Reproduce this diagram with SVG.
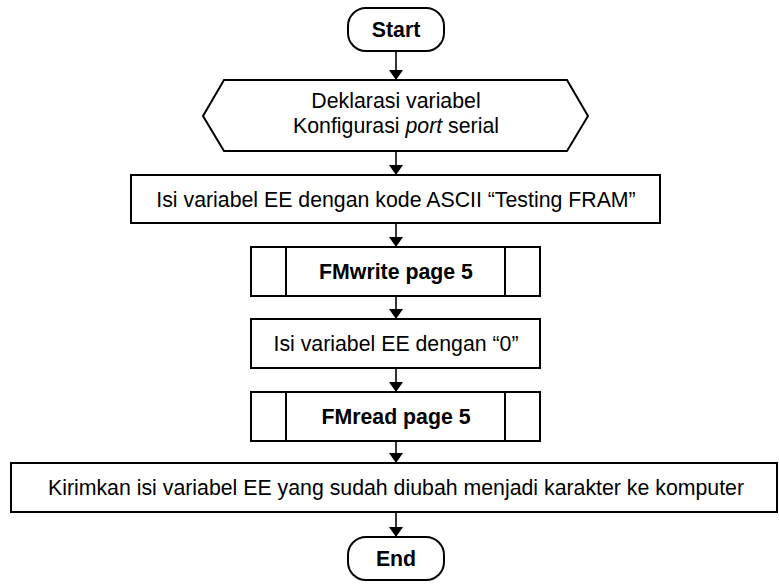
<svg xmlns="http://www.w3.org/2000/svg" width="779" height="585" viewBox="0 0 779 585">
<style>
.s{fill:#fff;stroke:#000;stroke-width:2}
.t{font-family:"Liberation Sans",Arial,sans-serif;font-size:21.3px;fill:#000;text-anchor:middle}
.b{font-weight:bold}
.c{stroke:#000;stroke-width:1.6;fill:none}
</style>
<defs>
<marker id="ah" markerWidth="10" markerHeight="14" refX="10" refY="7" orient="auto" markerUnits="userSpaceOnUse" viewBox="0 0 10 14">
<path d="M0,0 L10,7 L0,14 Z" fill="#000" transform="rotate(0)"/>
</marker>
</defs>
<rect width="779" height="585" fill="#fff"/>
<g id="connectors">
<path class="c" d="M396,51 V80" marker-end="url(#ah)"/>
<path class="c" d="M396,151 V175" marker-end="url(#ah)"/>
<path class="c" d="M396,223 V247" marker-end="url(#ah)"/>
<path class="c" d="M396,296 V319" marker-end="url(#ah)"/>
<path class="c" d="M396,368 V392" marker-end="url(#ah)"/>
<path class="c" d="M396,441 V463" marker-end="url(#ah)"/>
<path class="c" d="M396,512 V537" marker-end="url(#ah)"/>
</g>
<g id="start">
<rect class="s" x="348" y="8" width="96" height="43" rx="18" ry="18"/>
<text class="t b" x="396" y="37">Start</text>
</g>
<g id="prep">
<polygon class="s" points="224,80 567,80 588,116 567,151 224,151 203,116"/>
<text class="t" x="396" y="108">Deklarasi variabel</text>
<text class="t" x="396" y="133">Konfigurasi <tspan font-style="italic">port</tspan> serial</text>
</g>
<g id="isi1">
<rect class="s" x="131" y="175" width="529" height="48"/>
<text class="t" x="396" y="206.5">Isi variabel EE dengan kode ASCII “Testing FRAM”</text>
</g>
<g id="fmwrite">
<rect class="s" x="251" y="247" width="289" height="49"/>
<path class="c" style="stroke-width:2" d="M286,247 V296 M505,247 V296"/>
<text class="t b" x="396" y="279">FMwrite page 5</text>
</g>
<g id="isi2">
<rect class="s" x="251" y="319" width="289" height="49"/>
<text class="t" x="396" y="351">Isi variabel EE dengan “0”</text>
</g>
<g id="fmread">
<rect class="s" x="251" y="392" width="289" height="49"/>
<path class="c" style="stroke-width:2" d="M286,392 V441 M505,392 V441"/>
<text class="t b" x="396" y="424">FMread page 5</text>
</g>
<g id="kirim">
<rect class="s" x="11" y="463" width="766" height="49"/>
<text class="t" x="396" y="495">Kirimkan isi variabel EE yang sudah diubah menjadi karakter ke komputer</text>
</g>
<g id="end">
<rect class="s" x="348" y="537" width="96" height="43" rx="18" ry="18"/>
<text class="t b" x="396" y="566">End</text>
</g>
</svg>
